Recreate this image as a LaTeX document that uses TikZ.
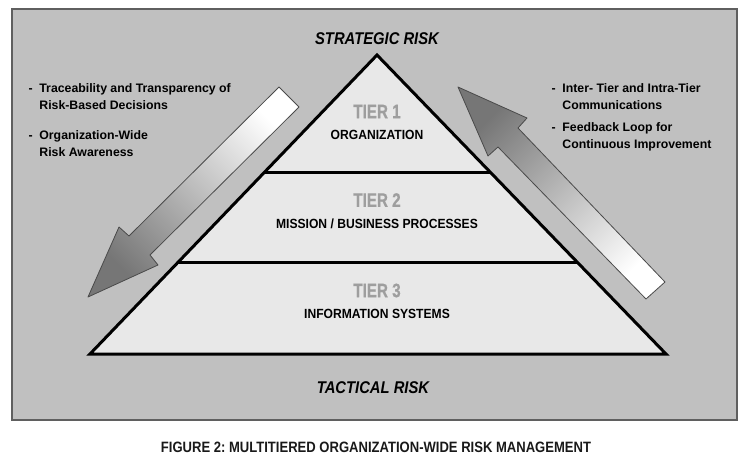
\documentclass[tikz,border=0pt]{standalone}
\usepackage{fontspec}
\setmainfont{Liberation Sans}
\newfontfamily\narrowsf[FakeStretch=0.87]{Liberation Sans}
\newfontfamily\tierfont[FakeStretch=0.78,FakeBold=0.6]{Liberation Sans}
\newfontfamily\tiernamefont[FakeStretch=0.91]{Liberation Sans}
\usetikzlibrary{calc}
\definecolor{panelgray}{HTML}{C0C0C0}
\definecolor{paneledge}{HTML}{5F5F5F}
\definecolor{pyrfill}{HTML}{E8E8E8}
\definecolor{tiergray}{HTML}{9E9E9E}
\definecolor{arrowdark}{HTML}{767676}
\definecolor{arrowmid}{HTML}{CDCDCD}
\definecolor{arrowedge}{HTML}{4A4A4A}

\begin{document}
\begin{tikzpicture}[x=1pt,y=-1pt,
  risklabel/.style={font=\narrowsf\bfseries\itshape\fontsize{17}{20}\selectfont, inner sep=0pt},
  tierlabel/.style={font=\tierfont\bfseries\fontsize{19.5}{22}\selectfont, text=tiergray, inner sep=0pt},
  tiername/.style={font=\tiernamefont\bfseries\fontsize{13.3}{16}\selectfont, inner sep=0pt},
  sidetext/.style={font=\bfseries\fontsize{12.3}{16.5}\selectfont, inner sep=0pt, anchor=north west},
  blockarrow/.style={draw=arrowedge, line width=0.8pt, line join=round,
    middle color=arrowmid},
  pyrline/.style={line width=3pt, draw=black}]
  \useasboundingbox (0,0) rectangle (746,461);
  % backdrop
  \filldraw[fill=panelgray, draw=paneledge, line width=1.5pt] (12,9) rectangle (737,420);

  % top-down arrow (left) and feedback arrow (right)
  \shadedraw[blockarrow, top color=white, bottom color=arrowdark, shading angle=-45]
    (88,297) -- (119,227) -- (129,236) -- (279,87) -- (299,107) -- (150,255) -- (158,265) -- cycle;
  \shadedraw[blockarrow, top color=arrowdark, bottom color=white, shading angle=45]
    (458,87) -- (527,118) -- (518,128) -- (665,282) -- (646,299) -- (498,147) -- (488,156) -- cycle;

  % pyramid
  \coordinate (apex) at (377,55);
  \coordinate (baseL) at (90,354);
  \coordinate (baseR) at (666,354);
  \filldraw[pyrline, fill=pyrfill, line join=miter] (apex) -- (baseR) -- (baseL) -- cycle;
  \foreach \t in {0.3946,0.6923}
    \draw[pyrline] ($(apex)!\t!(baseL)$) -- ($(apex)!\t!(baseR)$);

  \foreach \n/\tname/\ty in {1/ORGANIZATION/111.5, 2/{MISSION / BUSINESS PROCESSES}/200, 3/{INFORMATION SYSTEMS}/290.5}{
    \node[tierlabel] (tier\n) at (377,\ty) {TIER \n};
    \node[tiername] (tiername\n) at (377,\ty+23.5) {\tname};
  }

  \node[risklabel] (strategic) at (377,39) {STRATEGIC RISK};
  \node[risklabel] (tactical) at (373,388) {TACTICAL RISK};

  % side notes
  \node[sidetext] (trace) at (28.5,80.85)
    {\begin{tabular}{@{}l@{\hspace{6.6pt}}l@{}}-&Traceability and Transparency of\\&Risk-Based Decisions\end{tabular}};
  \node[sidetext] (aware) at (28.5,127.85)
    {\begin{tabular}{@{}l@{\hspace{6.6pt}}l@{}}-&Organization-Wide\\&Risk Awareness\end{tabular}};
  \node[sidetext] (comms) at (551.5,80.85)
    {\begin{tabular}{@{}l@{\hspace{6.6pt}}l@{}}-&Inter- Tier and Intra-Tier\\&Communications\end{tabular}};
  \node[sidetext] (feedback) at (551.5,119.85)
    {\begin{tabular}{@{}l@{\hspace{6.6pt}}l@{}}-&Feedback Loop for\\&Continuous Improvement\end{tabular}};

  \node[font=\narrowsf\bfseries\frenchspacing\fontsize{15}{18}\selectfont, inner sep=0pt, text=black!90] (caption) at (376,447)
    {FIGURE 2: MULTITIERED ORGANIZATION-WIDE RISK MANAGEMENT};
\end{tikzpicture}
\end{document}
